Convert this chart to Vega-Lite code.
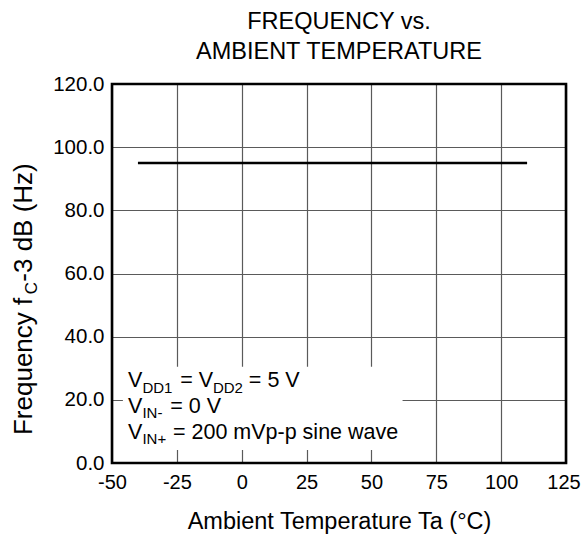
{
  "$schema": "https://vega.github.io/schema/vega-lite/v6.json",
  "width": 454,
  "height": 379,
  "autosize": {"type": "none"},
  "padding": {"left": 112, "top": 84, "right": 16, "bottom": 74},
  "background": "white",
  "title": {
    "text": ["FREQUENCY vs.", "AMBIENT TEMPERATURE"],
    "fontSize": 23.5,
    "fontWeight": "normal",
    "font": "Liberation Sans",
    "color": "black",
    "lineHeight": 30,
    "anchor": "middle",
    "offset": 11
  },
  "config": {
    "view": {"stroke": null},
    "font": "Liberation Sans",
    "axis": {
      "labelFont": "Liberation Sans",
      "titleFont": "Liberation Sans",
      "labelColor": "black",
      "titleColor": "black",
      "gridColor": "#5a5a5a",
      "gridWidth": 1.2,
      "gridOpacity": 1,
      "ticks": false,
      "domain": false,
      "labelFlush": false,
      "labelOverlap": false
    }
  },
  "encoding": {
    "x": {
      "field": "x",
      "type": "quantitative",
      "scale": {"domain": [-50, 125], "nice": false, "zero": false},
      "axis": {
        "values": [-50, -25, 0, 25, 50, 75, 100, 125],
        "labelExpr": "replace(datum.label, '−', '-')",
        "labelOffset": {"condition": {"test": "datum.value == 125", "value": -2.5}, "value": 0},
        "title": "Ambient Temperature Ta (°C)",
        "titleFontSize": 23.5,
        "titleFontWeight": "normal",
        "titlePadding": 17,
        "labelFontSize": 20,
        "labelPadding": 9,
        "grid": true
      }
    },
    "y": {
      "field": "y",
      "type": "quantitative",
      "scale": {"domain": [0, 120], "nice": false, "zero": false},
      "axis": {
        "values": [0, 20, 40, 60, 80, 100, 120],
        "format": ".1f",
        "title": null,
        "labelFontSize": 20.5,
        "labelPadding": 8,
        "grid": true
      }
    }
  },
  "layer": [
    {
      "data": {"values": [{"x": -45.8, "x2": 62, "y": 4.1, "y2": 30.5}]},
      "mark": {"type": "rect", "fill": "white", "stroke": null},
      "encoding": {"x2": {"field": "x2"}, "y2": {"field": "y2"}}
    },
    {
      "data": {"values": [{"x": -40, "y": 95}, {"x": 110, "y": 95}]},
      "mark": {"type": "line", "color": "black", "strokeWidth": 2.6}
    },
    {
      "data": {"values": [{"x": -50, "x2": 125, "y": 0, "y2": 120}]},
      "mark": {"type": "rect", "fill": null, "fillOpacity": 0, "stroke": "black", "strokeWidth": 2.6},
      "encoding": {"x2": {"field": "x2"}, "y2": {"field": "y2"}}
    },
    {
      "data": {"values": [
        {"x": -43.84, "y": 24.16, "text": "V"},
        {"x": -23.66, "y": 24.16, "text": "= V"},
        {"x": 2.76, "y": 24.16, "text": "= 5 V"},
        {"x": -43.84, "y": 15.93, "text": "V"},
        {"x": -27.51, "y": 15.93, "text": "= 0 V"},
        {"x": -43.84, "y": 7.5, "text": "V"},
        {"x": -26.51, "y": 7.5, "text": "= 200 mVp-p sine wave"}
      ]},
      "mark": {"type": "text", "align": "left", "baseline": "alphabetic", "fontSize": 21.5, "color": "black", "font": "Liberation Sans"},
      "encoding": {"text": {"field": "text"}}
    },
    {
      "data": {"values": [
        {"x": -38.29, "y": 22.26, "text": "DD1"},
        {"x": -11.1, "y": 22.26, "text": "DD2"},
        {"x": -38.29, "y": 14.15, "text": "IN-"},
        {"x": -38.29, "y": 6.02, "text": "IN+"}
      ]},
      "mark": {"type": "text", "align": "left", "baseline": "alphabetic", "fontSize": 15, "color": "black", "font": "Liberation Sans"},
      "encoding": {"text": {"field": "text"}}
    },
    {
      "data": {"values": [
        {"x": -81.0, "y": 8.86, "text": "Frequency  f"},
        {"x": -81.0, "y": 57.4, "text": "-3 dB (Hz)"}
      ]},
      "mark": {"type": "text", "align": "left", "baseline": "alphabetic", "angle": 270, "fontSize": 26, "color": "black", "font": "Liberation Sans"},
      "encoding": {"text": {"field": "text"}}
    },
    {
      "data": {"values": [
        {"x": -79.0, "y": 53.4, "text": "C"}
      ]},
      "mark": {"type": "text", "align": "left", "baseline": "alphabetic", "angle": 270, "fontSize": 17, "color": "black", "font": "Liberation Sans"},
      "encoding": {"text": {"field": "text"}}
    }
  ]
}
